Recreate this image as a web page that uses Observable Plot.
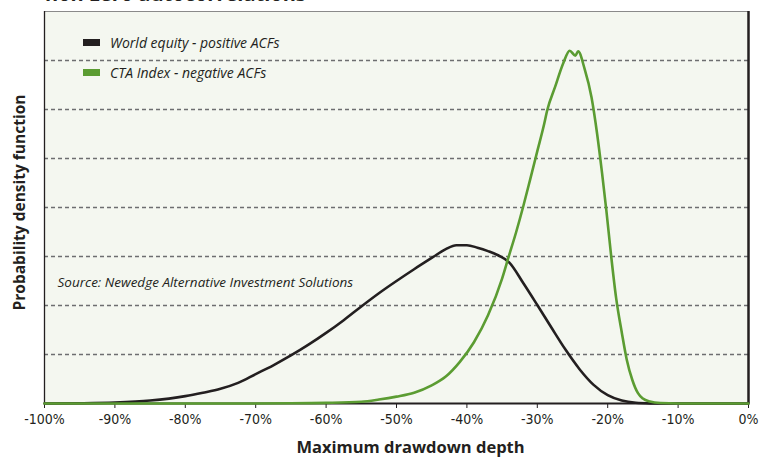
<!DOCTYPE html>
<html>
<head>
<meta charset="utf-8">
<script src="https://cdn.jsdelivr.net/npm/d3@7"></script>
<script src="https://cdn.jsdelivr.net/npm/@observablehq/plot@0.6"></script>
<style>
  body { margin: 0; background: #ffffff; overflow: hidden; }
  #wrap { position: relative; width: 773px; height: 457px; overflow: hidden; }
  #cut-title { position: absolute; left: 45px; top: -20px; font: bold 20px/27px "Open Sans", sans-serif; color: #231f20; white-space: nowrap; }
  .leg { position: absolute; left: 83px; display: flex; align-items: center; font: italic 14px "Open Sans", sans-serif; color: #231f20; white-space: nowrap; }
  .sw { width: 17px; height: 7px; margin-right: 10px; }
</style>
</head>
<body>
<div id="wrap">
  <div id="cut-title">non-zero autocorrelations</div>
</div>
<script>
// ---- data ----
const seriesNames = ["World equity - positive ACFs", "CTA Index - negative ACFs"];
const seriesColors = ["#231f20", "#5b9c32"];

const equityDepth   = [-100, -95, -90, -85, -80, -77.5, -75, -72.5, -70, -67.5, -65, -62.5, -60, -57.5, -55, -52.5, -50, -47.5, -45, -43, -41.5, -40, -38.5, -37, -35.5, -34, -32, -30, -28, -26, -24, -22, -20, -18, -16, -14, -12, -6, 0];
const equityDensity = [0, 0.005, 0.02, 0.06, 0.15, 0.22, 0.3, 0.42, 0.6, 0.78, 0.98, 1.2, 1.44, 1.7, 1.98, 2.25, 2.5, 2.74, 2.97, 3.15, 3.23, 3.23, 3.18, 3.11, 3.02, 2.88, 2.46, 2.01, 1.55, 1.1, 0.7, 0.38, 0.17, 0.06, 0.015, 0.003, 0, 0, 0];

const ctaDepth   = [-100, -75, -65, -60, -55, -52.5, -50, -47.5, -45, -43, -41, -39, -37, -35, -34.1, -33, -32, -31, -30, -29, -28.6, -27.5, -26.3, -25.4, -24.6, -24.2, -23.3, -22.3, -21.5, -20.8, -20.2, -19.5, -18.8, -18, -17.3, -16.5, -15.7, -15, -14, -12.5, -10, 0];
const ctaDensity = [0, 0, 0.004, 0.012, 0.035, 0.08, 0.14, 0.22, 0.37, 0.55, 0.85, 1.25, 1.8, 2.55, 2.98, 3.5, 4.02, 4.58, 5.15, 5.72, 5.98, 6.45, 6.95, 7.2, 7.1, 7.19, 6.84, 6.25, 5.5, 4.7, 3.95, 3.0, 2.15, 1.45, 0.9, 0.48, 0.21, 0.1, 0.04, 0.01, 0, 0];

const xTicks = [-100, -90, -80, -70, -60, -50, -40, -30, -20, -10, 0];
const gridLevels = [1, 2, 3, 4, 5, 6, 7];
const yMax = 8;
const xLabel = "Maximum drawdown depth";
const yLabel = "Probability density function";
const sourceText = "Source: Newedge Alternative Investment Solutions";

// ---- build tables ----
const equity = equityDepth.map((d, i) => ({depth: d, density: equityDensity[i]}));
const cta = ctaDepth.map((d, i) => ({depth: d, density: ctaDensity[i]}));

const chart = Plot.plot({
  width: 773,
  height: 457,
  marginLeft: 44,
  marginRight: 25,
  marginTop: 11,
  marginBottom: 54,
  x: {domain: [-100, 0]},
  y: {domain: [0, yMax], axis: null},
  style: {fontFamily: "'Liberation Sans Narrow', 'DejaVu Sans Condensed', sans-serif", fontSize: "13px", color: "#231f20", background: "transparent"},
  marks: [
    Plot.frame({fill: "#f4f7f0", stroke: null}),
    Plot.ruleY(gridLevels, {stroke: "#6d6e70", strokeDasharray: "4,3", strokeWidth: 1.3}),
    Plot.ruleY([yMax], {stroke: "#8a8a8a", strokeWidth: 1}),
    Plot.ruleX([-100], {stroke: "#231f20", strokeWidth: 1.3}),
    Plot.ruleX([0], {stroke: "#231f20", strokeWidth: 2.5}),
    Plot.axisX(xTicks, {tickFormat: d => `${d}%`, tickSize: 5, tickPadding: 6, label: null, stroke: "#231f20", fontSize: 14}),
    Plot.ruleY([0], {stroke: "#231f20", strokeWidth: 2}),
    Plot.line(equity, {x: "depth", y: "density", stroke: seriesColors[0], strokeWidth: 2.6, curve: "monotone-x"}),
    Plot.line(cta, {x: "depth", y: "density", stroke: seriesColors[1], strokeWidth: 2.6, curve: "monotone-x"}),
    Plot.text([sourceText], {text: d => d, frameAnchor: "top-left", lineAnchor: "middle", textAnchor: "start", dx: 13, dy: 271, fontStyle: "italic", fontSize: 13.5, fontFamily: "'Open Sans', sans-serif", fill: "#231f20"}),
    Plot.text([xLabel], {text: d => d, frameAnchor: "bottom", lineAnchor: "middle", textAnchor: "middle", dx: 14, dy: 44, fontWeight: "bold", fontSize: 16.5, fontFamily: "'Open Sans', sans-serif", fill: "#231f20"}),
    Plot.text([yLabel], {text: d => d, frameAnchor: "left", lineAnchor: "middle", textAnchor: "middle", rotate: -90, dx: -24, dy: -5, fontWeight: "bold", fontSize: 15.5, fontFamily: "'Open Sans', sans-serif", fill: "#231f20"})
  ]
});

const wrap = document.getElementById("wrap");
wrap.insertBefore(chart, wrap.firstChild);

// legend overlay
const legendTops = [33, 63];
seriesNames.forEach((name, i) => {
  const row = document.createElement("div");
  row.className = "leg";
  row.style.top = legendTops[i] + "px";
  const sw = document.createElement("div");
  sw.className = "sw";
  sw.style.background = seriesColors[i];
  const tx = document.createElement("span");
  tx.textContent = name;
  row.appendChild(sw);
  row.appendChild(tx);
  wrap.appendChild(row);
});
</script>
</body>
</html>
